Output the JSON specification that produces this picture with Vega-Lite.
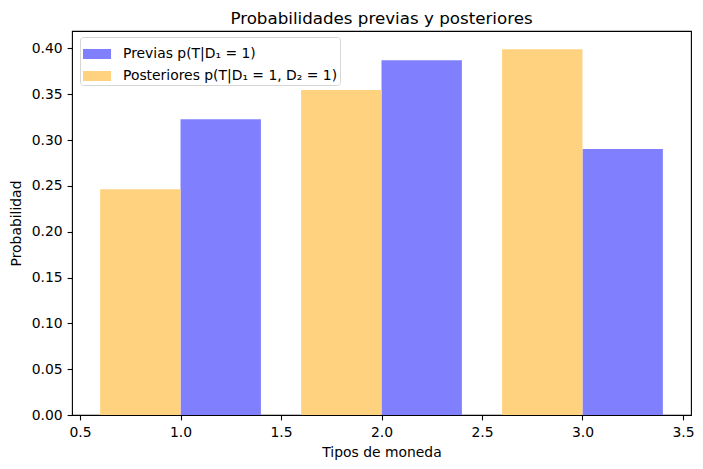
{
  "$schema": "https://vega.github.io/schema/vega-lite/v6.json",
  "width": 619,
  "height": 384,
  "autosize": {"type": "none"},
  "padding": {"left": 72, "top": 31, "right": 12, "bottom": 54},
  "background": "white",
  "title": {
    "text": "Probabilidades previas y posteriores",
    "font": "DejaVu Sans",
    "fontSize": 16.7,
    "fontWeight": "normal",
    "color": "black",
    "anchor": "middle",
    "baseline": "alphabetic",
    "offset": -10
  },
  "data": {
    "values": [
      {"tipo": 1, "serie": "Previas", "prob": 0.3226},
      {"tipo": 2, "serie": "Previas", "prob": 0.3871},
      {"tipo": 3, "serie": "Previas", "prob": 0.2903},
      {"tipo": 1, "serie": "Posteriores", "prob": 0.2463},
      {"tipo": 2, "serie": "Posteriores", "prob": 0.3547},
      {"tipo": 3, "serie": "Posteriores", "prob": 0.399}
    ]
  },
  "transform": [
    {"calculate": "datum.serie === 'Previas' ? datum.tipo : datum.tipo - 0.4", "as": "left"},
    {"calculate": "datum.left + 0.4", "as": "right"}
  ],
  "mark": {"type": "bar"},
  "encoding": {
    "x": {
      "field": "left",
      "type": "quantitative",
      "scale": {"domain": [0.46, 3.54], "nice": false, "zero": false},
      "axis": {
        "title": "Tipos de moneda",
        "values": [0.5, 1, 1.5, 2, 2.5, 3, 3.5],
        "format": ".1f",
        "labelPadding": 5.5,
        "titlePadding": 6
      }
    },
    "x2": {"field": "right"},
    "y": {
      "field": "prob",
      "type": "quantitative",
      "scale": {"domain": [0, 0.41895], "nice": false},
      "axis": {
        "title": "Probabilidad",
        "values": [0, 0.05, 0.1, 0.15, 0.2, 0.25, 0.3, 0.35, 0.4],
        "format": ".2f",
        "labelPadding": 4.9,
        "titlePadding": 8
      }
    },
    "y2": {"datum": 0},
    "color": {
      "field": "serie",
      "type": "nominal",
      "scale": {"domain": ["Previas", "Posteriores"], "range": ["#8080ff", "#ffd280"]},
      "legend": {
        "title": null,
        "orient": "none",
        "legendX": 8,
        "legendY": 6,
        "labelExpr": "datum.label === 'Previas' ? 'Previas p(T|D₁ = 1)' : 'Posteriores p(T|D₁ = 1, D₂ = 1)'",
        "symbolType": "M-1,-0.357H1V0.357H-1Z",
        "symbolSize": 784,
        "labelOffset": 11,
        "rowPadding": -1.5,
        "padding": 2,
        "fillColor": "white",
        "strokeColor": "#d6d6d6",
        "cornerRadius": 3,
        "labelFont": "DejaVu Sans",
        "labelFontSize": 13.9,
        "labelColor": "black",
        "labelLimit": 400
      }
    }
  },
  "config": {
    "font": "DejaVu Sans",
    "view": {"stroke": "black", "strokeWidth": 1.1},
    "axis": {
      "grid": false,
      "domain": false,
      "ticks": true,
      "tickColor": "black",
      "tickWidth": 1.1,
      "tickSize": 4.9,
      "labelFont": "DejaVu Sans",
      "labelFontSize": 13.9,
      "labelColor": "black",
      "titleFont": "DejaVu Sans",
      "titleFontSize": 13.9,
      "titleFontWeight": "normal",
      "titleColor": "black"
    }
  }
}
